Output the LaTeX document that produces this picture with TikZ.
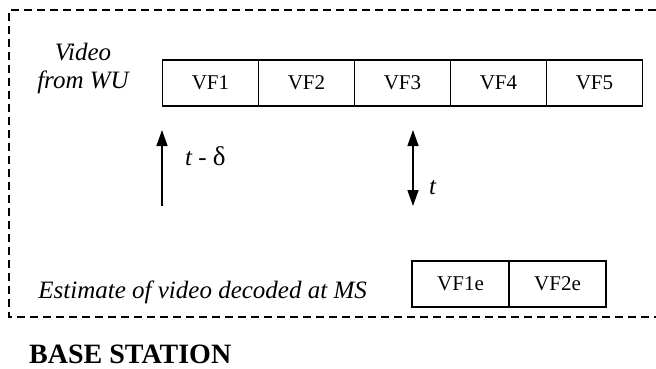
\documentclass[tikz,border=0pt]{standalone}
\usepackage{fontspec}
\setmainfont{Liberation Serif}
\usetikzlibrary{positioning,arrows.meta}

\tikzset{
    frame/.style={draw, line width=1.2pt, outer sep=0pt, inner sep=0pt,
        minimum width=96pt, minimum height=46pt, font=\fontsize{21}{24}\selectfont},
    estframe/.style={frame, minimum width=97pt},
    lbl/.style={font=\fontsize{25}{28}\selectfont\itshape, inner sep=0pt},
    timearrow/.style={line width=1.4pt, -{Triangle[length=16pt,width=11pt]}},
    boundary/.style={line width=1.3pt, dash pattern=on 8pt off 5pt}
}

\begin{document}
\begin{tikzpicture}[x=1pt,y=-1pt]
    \useasboundingbox (0,0) rectangle (656,369);

    % base station boundary (open on the right)
    \draw[boundary] (656,10) -- (9,10) -- (9,317) -- (656,317);

    % video frames from WU
    \node[frame] (vf1) at (210.5,83) {VF1};
    \node[frame, right=0pt of vf1] (vf2) {VF2};
    \node[frame, right=0pt of vf2] (vf3) {VF3};
    \node[frame, right=0pt of vf3] (vf4) {VF4};
    \node[frame, right=0pt of vf4] (vf5) {VF5};
    \node[lbl, align=center] (src) at (83,68) {Video\\from WU};

    % time markers
    \coordinate (lag0) at (162,206);
    \coordinate (lag1) at (162,130);
    \draw[timearrow] (lag0) -- (lag1);
    \node[lbl, anchor=west] (laglbl) at (185,156) {t \upshape - {\fontsize{27}{28}\selectfont δ}};

    \coordinate (now0) at (413,168);
    \coordinate (now1) at (413,130);
    \coordinate (now2) at (413,206);
    \draw[timearrow] (now0) -- (now1);
    \draw[timearrow] (now0) -- (now2);
    \node[lbl, anchor=west] (nowlbl) at (429,188) {t};

    % estimate at MS
    \node[estframe] (vf1e) at (460.5,284) {VF1e};
    \node[estframe, right=0pt of vf1e] (vf2e) {VF2e};
    \node[lbl, anchor=base east] (estlbl) at (367,298) {Estimate of video decoded at MS};

    \node[font=\fontsize{28}{32}\selectfont\bfseries, inner sep=0pt, anchor=base west] (bs) at (29,363) {BASE STATION};
\end{tikzpicture}
\end{document}
